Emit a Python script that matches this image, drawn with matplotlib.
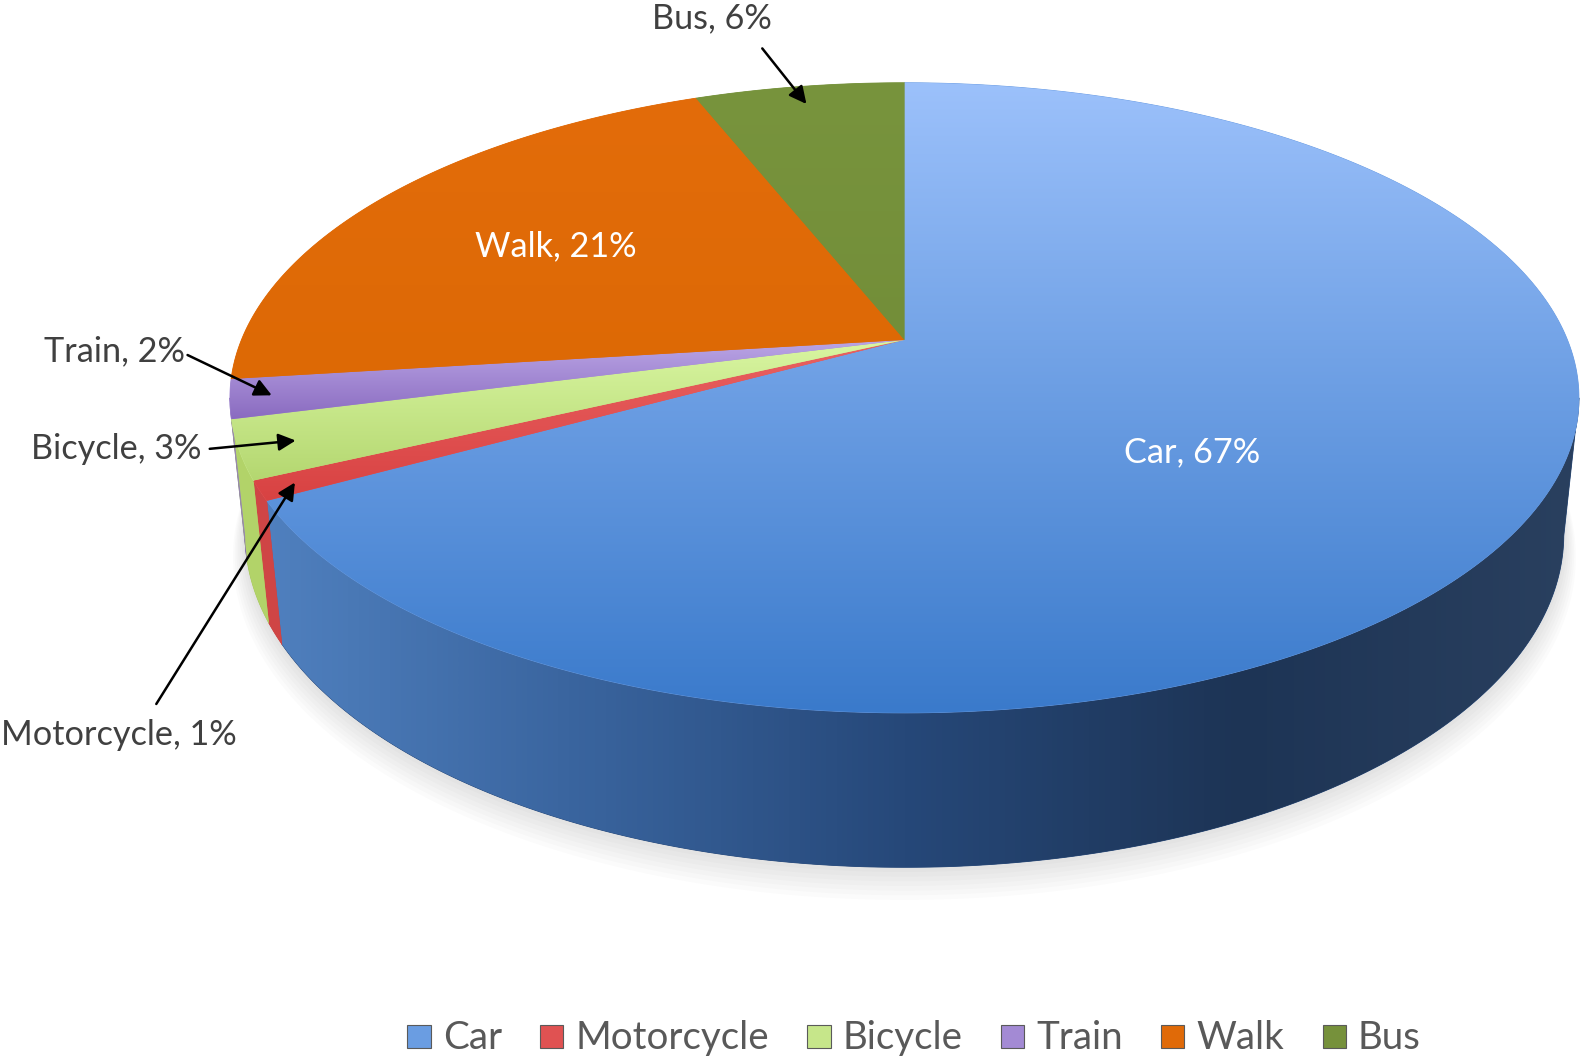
import numpy as np
import matplotlib.pyplot as plt
from matplotlib.patches import Polygon, Rectangle
from matplotlib.colors import LinearSegmentedColormap

# data
labels = ['Car', 'Motorcycle', 'Bicycle', 'Train', 'Walk', 'Bus']
shares = [67, 1, 3, 2, 21, 6]

# top face gradient (light -> dark) and side wall colours per slice
top_colors = [['#9cc1fb', '#3a7acb'], ['#ea6262', '#d84242'], ['#d9f6a2', '#b4d770'],
              ['#bba6e6', '#8a6bc0'], ['#e36c0a', '#dd6905'], ['#78943d', '#738e39']]
wall_colors = [['#5283c2', '#3a659f', '#264879', '#1d3455', '#2a405f'],
               ['#d04646', '#c43c3c'], ['#b3d46a', '#9bbd52'], ['#9378c2', '#7e62ae'],
               ['#c95f08', '#b85506'], ['#6a8535', '#5d752e']]
legend_colors = ['#6a9de2', '#e05252', '#c6e68a', '#a38ad4', '#e06a08', '#76913b']

# working units: the 1568 x 1049 preview, mapped onto the 1581 x 1058 canvas
W, H = 1568, 1049
px = 1581 / W

# 3D pie camera (fitted to the picture)
cx, cy = 897, 337
f, D = 3176, 4.83
sb, cb = 0.459, 0.888
depth = 0.234


def proj(X, Y, Z):
    d = D + Y * cb - Z * sb
    return np.column_stack([cx + f * X / d, cy - f * (Y * sb + Z * cb) / d])


def arc(a0, a1, r=1.0, z=0.0, n=300):
    a = np.radians(np.linspace(a0, a1, n))
    return proj(r * np.sin(a), r * np.cos(a), np.full_like(a, z))


fig = plt.figure(figsize=(15.81, 10.58), dpi=100)
ax = fig.add_axes([0, 0, 1, 1])


def grad_fill(pts, colors, vertical=True, xr=None, z=1):
    poly = Polygon(pts, closed=True, transform=ax.transData, fc='none', ec='none')
    x0, y0 = pts.min(0)
    x1, y1 = pts.max(0)
    if xr is not None:
        x0, x1 = xr
    cmap = LinearSegmentedColormap.from_list('g', colors)
    ramp = np.linspace(0, 1, 256)
    img = ramp[:, None] if vertical else ramp[None, :]
    mid = cmap(0.5)
    ax.add_patch(Polygon(pts, closed=True, fc=mid, ec=mid, lw=0.6, zorder=z - 0.1))
    im = ax.imshow(img, cmap=cmap, extent=(x0, x1, y1, y0), origin='upper',
                   aspect='auto', interpolation='bilinear', zorder=z)
    im.set_clip_path(poly)


edges = np.concatenate([[0], np.cumsum(shares)]) / sum(shares) * 360

# soft shadow
for k in range(8):
    sh = arc(0, 360, r=1 + 0.003 * k, z=-depth - 0.005 * k)
    ax.add_patch(Polygon(sh, closed=True, fc='#808080', ec='none', alpha=0.03, zorder=0))

# side walls, visible part only
vis0, vis1 = 100.6, 259.4
for i in range(len(shares)):
    lo, hi = max(edges[i], vis0), min(edges[i + 1], vis1)
    if hi <= lo:
        continue
    top = arc(lo, hi, z=0)
    bot = arc(lo, hi, z=-depth)
    pts = np.vstack([top, bot[::-1]])
    grad_fill(pts, wall_colors[i], vertical=False, xr=(228, 1566), z=2)

# top faces
centre = proj(np.array([0.0]), np.array([0.0]), np.array([0.0]))
for i in range(len(shares)):
    pts = np.vstack([centre, arc(edges[i], edges[i + 1])])
    grad_fill(pts, top_colors[i], vertical=True, z=3)

# labels
txt = dict(family=['Lato', 'DejaVu Sans'], fontsize=24.5 * px, zorder=6)
ax.text(1182, 448, f'{labels[0]}, {shares[0]}%', color='white', ha='center', va='center', **txt)
ax.text(551, 244, f'{labels[4]}, {shares[4]}%', color='white', ha='center', va='center', **txt)
ax.text(706, 18, f'{labels[5]}, {shares[5]}%', color='#404040', ha='center', va='center', **txt)
ax.text(183, 348, f'{labels[3]}, {shares[3]}%', color='#404040', ha='right', va='center', **txt)
ax.text(200, 445, f'{labels[2]}, {shares[2]}%', color='#404040', ha='right', va='center', **txt)
ax.text(118, 729, f'{labels[1]}, {shares[1]}%', color='#404040', ha='center', va='center', **txt)

# leader arrows into the small slices
tips = {5: 0.92, 3: 0.94, 2: 0.92, 1: 0.95}
starts = {5: (756, 48), 3: (186, 352), 2: (208, 445), 1: (155, 698)}
for i, r in tips.items():
    mid = np.radians((edges[i] + edges[i + 1]) / 2)
    tip = proj(np.array([r * np.sin(mid)]), np.array([r * np.cos(mid)]), np.array([0.0]))[0]
    ax.annotate('', xy=tip, xytext=starts[i], zorder=7,
                arrowprops=dict(arrowstyle='-|>', color='black', lw=1.8,
                                mutation_scale=26, shrinkA=0, shrinkB=0))

# legend along the bottom
renderer = fig.canvas.get_renderer()
x = 404
for lab, col in zip(labels, legend_colors):
    ax.add_patch(Rectangle((x, 1016), 23, 23, fc=col, ec='#5a5a5a', lw=0.8, zorder=5))
    t = ax.text(x + 35, 1029, lab, color='#595959', family=['Lato', 'DejaVu Sans'],
                fontsize=27.5 * px, ha='left', va='center', zorder=6)
    w = t.get_window_extent(renderer=renderer).width / px
    x = x + 35 + w + 38

ax.set_xlim(0, W)
ax.set_ylim(H, 0)
ax.axis('off')
fig.savefig('out.png', dpi=100, facecolor='white')
